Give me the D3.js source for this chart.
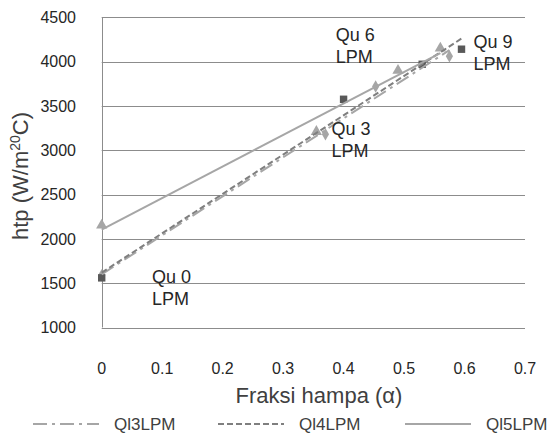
<!DOCTYPE html>
<html>
<head>
<meta charset="utf-8">
<script src="https://cdn.jsdelivr.net/npm/d3@7"></script>
<style>
  body { margin: 0; background: #fff; }
  text { font-family: "Liberation Sans", Arial, sans-serif; }
</style>
</head>
<body>
<div id="chart"></div>
<script>
// Data
const seriesNames = ["Ql3LPM", "Ql4LPM", "Ql5LPM"];
const ql3Alpha = [0, 0.37, 0.453, 0.575];
const ql3Htp = [1590, 3180, 3720, 4060];
const ql4Alpha = [0, 0.4, 0.53, 0.595];
const ql4Htp = [1560, 3575, 3970, 4140];
const ql5Alpha = [0, 0.355, 0.49, 0.56];
const ql5Htp = [2155, 3210, 3900, 4150];
const xTicks = [0, 0.1, 0.2, 0.3, 0.4, 0.5, 0.6, 0.7];
const yTicks = [1000, 1500, 2000, 2500, 3000, 3500, 4000, 4500];
const quLabels = ["Qu 0", "Qu 3", "Qu 6", "Qu 9"];
const quLabelAlpha = [0.083, 0.38, 0.387, 0.615];
const quLabelHtp = [1580, 3250, 4310, 4230];

const width = 547, height = 433;

const x = d3.scaleLinear().domain([0, 0.7]).range([101.7, 525]);
const y = d3.scaleLinear().domain([1000, 4500]).range([327.5, 17.3]);

const svg = d3.select("#chart").append("svg")
    .attr("width", width)
    .attr("height", height);

svg.append("rect").attr("width", width).attr("height", height).attr("fill", "#fff");

// gridlines
svg.append("g")
    .selectAll("line")
    .data(yTicks)
    .enter()
    .append("line")
    .attr("x1", x(0))
    .attr("x2", x(0.7))
    .attr("y1", d => Math.round(y(d)) + 0.5)
    .attr("y2", d => Math.round(y(d)) + 0.5)
    .attr("stroke", "#8c8c8c")
    .attr("stroke-width", 1);

// y axis line
svg.append("line")
    .attr("x1", Math.round(x(0)) + 0.5)
    .attr("x2", Math.round(x(0)) + 0.5)
    .attr("y1", y(4500))
    .attr("y2", y(1000))
    .attr("stroke", "#8c8c8c");

// tick labels
svg.append("g")
    .selectAll("text")
    .data(yTicks)
    .enter()
    .append("text")
    .attr("x", 76)
    .attr("y", d => y(d))
    .attr("dy", "0.36em")
    .attr("text-anchor", "end")
    .attr("font-size", 16)
    .attr("fill", "#262626")
    .text(d => d);

svg.append("g")
    .selectAll("text")
    .data(xTicks)
    .enter()
    .append("text")
    .attr("x", d => x(d))
    .attr("y", 368)
    .attr("dy", "0.36em")
    .attr("text-anchor", "middle")
    .attr("font-size", 16)
    .attr("fill", "#262626")
    .text(d => d3.format("")(d));

// axis titles
svg.append("text")
    .attr("x", 319)
    .attr("y", 395)
    .attr("dy", "0.36em")
    .attr("text-anchor", "middle")
    .attr("font-size", 22)
    .attr("fill", "#404040")
    .text("Fraksi hampa (\u03b1)");

const yTitle = svg.append("text")
    .attr("transform", "translate(28,176) rotate(-90)")
    .attr("text-anchor", "middle")
    .attr("font-size", 22)
    .attr("fill", "#404040");
yTitle.append("tspan").text("htp (W/m");
yTitle.append("tspan").attr("font-size", 14).attr("dy", -8).text("20");
yTitle.append("tspan").attr("dy", 8).text("C)");

// series setup
const styles = [
    { color: "#a6a6a6", dash: "14,5,3,5", marker: d3.symbolDiamond, mcolor: "#a6a6a6" },
    { color: "#7f7f7f", dash: "6,3", marker: d3.symbolSquare, mcolor: "#595959" },
    { color: "#a6a6a6", dash: null, marker: d3.symbolTriangle, mcolor: "#a6a6a6" }
];
const series = [
    { name: seriesNames[0], xs: ql3Alpha, ys: ql3Htp },
    { name: seriesNames[1], xs: ql4Alpha, ys: ql4Htp },
    { name: seriesNames[2], xs: ql5Alpha, ys: ql5Htp }
];

function linearFit(xs, ys) {
    const mx = d3.mean(xs), my = d3.mean(ys);
    let sxy = 0, sxx = 0;
    xs.forEach((v, i) => { sxy += (v - mx) * (ys[i] - my); sxx += (v - mx) * (v - mx); });
    const slope = sxy / sxx;
    return { slope: slope, intercept: my - slope * mx };
}

// markers
series.forEach((s, i) => {
    svg.append("g")
        .selectAll("path")
        .data(s.xs.map((v, j) => [v, s.ys[j]]))
        .enter()
        .append("path")
        .attr("transform", d => `translate(${x(d[0])},${y(d[1])})`)
        .attr("d", d3.symbol().type(styles[i].marker).size(i === 0 ? 45 : 55))
        .attr("fill", styles[i].mcolor);
});

// trendlines
series.forEach((s, i) => {
    const fit = linearFit(s.xs, s.ys);
    const x0 = d3.min(s.xs), x1 = d3.max(s.xs);
    svg.append("line")
        .attr("x1", x(x0))
        .attr("y1", y(fit.intercept + fit.slope * x0))
        .attr("x2", x(x1))
        .attr("y2", y(fit.intercept + fit.slope * x1))
        .attr("stroke", styles[i].color)
        .attr("stroke-width", 2)
        .attr("stroke-dasharray", styles[i].dash);
});

// Qu labels
quLabels.forEach((t, i) => {
    const g = svg.append("text")
        .attr("x", x(quLabelAlpha[i]))
        .attr("y", y(quLabelHtp[i]))
        .attr("font-size", 18)
        .attr("fill", "#262626");
    g.append("tspan").attr("x", x(quLabelAlpha[i])).attr("dy", "0.36em").text(t);
    g.append("tspan").attr("x", x(quLabelAlpha[i])).attr("dy", 22).text("LPM");
});

// legend
const legendX = [33, 218, 405];
const legend = svg.append("g");
series.forEach((s, i) => {
    legend.append("line")
        .attr("x1", legendX[i])
        .attr("x2", legendX[i] + 66)
        .attr("y1", 424)
        .attr("y2", 424)
        .attr("stroke", styles[i].color)
        .attr("stroke-width", 2)
        .attr("stroke-dasharray", styles[i].dash);
    legend.append("text")
        .attr("x", legendX[i] + 81)
        .attr("y", 424)
        .attr("dy", "0.36em")
        .attr("font-size", 17)
        .attr("fill", "#404040")
        .text(s.name);
});
</script>
</body>
</html>
